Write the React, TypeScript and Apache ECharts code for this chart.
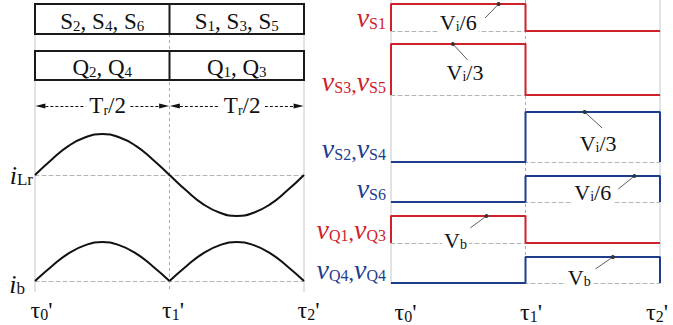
import React, { useEffect, useRef } from 'react';
import * as echarts from 'echarts';

const SERIF = "Liberation Serif";
const RED = '#d0212a';
const BLUE = '#1e3c8c';
const INK = '#111111';
const GUIDE = '#c6c6c6';
const BASE = '#b4b4b4';

// instants τ0', τ1', τ2' (one half resonant period apart)
const tauSubs = ['0', '1', '2'];

// devices conducting in each half period
const switchGroups = [
  [['S', '2'], ['S', '4'], ['S', '6']],
  [['S', '1'], ['S', '3'], ['S', '5']],
];
const bridgeGroups = [
  [['Q', '2'], ['Q', '4']],
  [['Q', '1'], ['Q', '3']],
];
const halfPeriod = ['T', 'r', '/2'];

// resonant current and battery current, sampled every Tr/8
const tSamples = [0, 0.125, 0.25, 0.375, 0.5, 0.625, 0.75, 0.875, 1, 1.125, 1.25, 1.375, 1.5, 1.625, 1.75, 1.875, 2];
const iLr = [0, 0.38, 0.71, 0.92, 1, 0.92, 0.71, 0.38, 0, -0.38, -0.71, -0.92, -1, -0.92, -0.71, -0.38, 0];
const ibFirst = [0, 0.38, 0.71, 0.92, 1, 0.92, 0.71, 0.38, 0];
const ibSecond = [0, 0.38, 0.71, 0.92, 1, 0.92, 0.71, 0.38, 0];

// blocking voltages per half period (S in units of Vi/6, Q in units of Vb)
const vS1 = [1, 0];
const vS3S5 = [2, 0];
const vS2S4 = [0, 2];
const vS6 = [0, 1];
const vQ1Q3 = [1, 0];
const vQ2Q4 = [0, 1];

const traces = [
  { names: [['v', 'S1']], color: RED, levels: vS1, full: 1 },
  { names: [['v', 'S3'], ['v', 'S5']], color: RED, levels: vS3S5, full: 2 },
  { names: [['v', 'S2'], ['v', 'S4']], color: BLUE, levels: vS2S4, full: 2 },
  { names: [['v', 'S6']], color: BLUE, levels: vS6, full: 1 },
  { names: [['v', 'Q1'], ['v', 'Q3']], color: RED, levels: vQ1Q3, full: 1 },
  { names: [['v', 'Q4'], ['v', 'Q4']], color: BLUE, levels: vQ2Q4, full: 1 },
];

// leader-line notes on the waveforms: [main, subscript, rest]
const notes = [
  { trace: 0, text: ['V', 'i', '/6'], dot: [0.8, 1], elbow: [0.7, 0.48], at: [0.5, 0.3] },
  { trace: 1, text: ['V', 'i', '/3'], dot: [0.46, 2], elbow: [0.57, 1.37], at: [0.55, 0.9] },
  { trace: 2, text: ['V', 'i', '/3'], dot: [1.44, 2], elbow: [1.57, 1.36], at: [1.54, 0.76] },
  { trace: 3, text: ['V', 'i', '/6'], dot: [1.81, 1], elbow: [1.69, 0.5], at: [1.5, 0.35] },
  { trace: 4, text: ['V', 'b', ''], dot: [0.71, 1], elbow: [0.59, 0.56], at: [0.48, 0.1] },
  { trace: 5, text: ['V', 'b', ''], dot: [1.65, 1], elbow: [1.52, 0.54], at: [1.4, 0.2] },
];

// layout (pixels)
const LEFT_X = 35;
const RIGHT_X = 391;
const PANEL_W = 269;
const traceBands = [[4, 27], [44, 51], [112, 50], [176, 26], [216, 27], [257, 26]];
const leftTauPad = { before: [13, 7, 9], after: [0, 0, 0] };
const rightTauPad = { before: [29, 11, 0], after: [0, 0, 6] };
const arrowRow = 0.354;

const stepPoints = (lv: number[]) => [[0, 0], [0, lv[0]], [1, lv[0]], [1, lv[1]], [2, lv[1]], [2, 0]];

const subRich = (main: number, sub: number, color: string, italic: boolean, mainLH: number, subLH: number) => ({
  v: { fontFamily: SERIF, fontStyle: italic ? 'italic' : 'normal', fontSize: main, color, lineHeight: mainLH, verticalAlign: 'bottom' },
  s: { fontFamily: SERIF, fontStyle: 'normal', fontSize: sub, color, lineHeight: subLH, verticalAlign: 'bottom' },
  c: { fontFamily: SERIF, fontStyle: 'normal', fontSize: 22, color, lineHeight: mainLH, verticalAlign: 'bottom' },
});

const pairText = (pairs: string[][], sep: string) =>
  pairs.map(([b, s]) => `{v|${b}}{s|${s}}`).join(`{c|${sep}}`);

const tauLabel = (pads: { before: number[]; after: number[] }) => ({
  show: true,
  margin: 17,
  color: INK,
  fontFamily: SERIF,
  formatter: (_v: number, i: number) => `{b${i}| }{t|τ}{s|${tauSubs[i]}}{t|'}{a${i}| }`,
  rich: {
    t: { fontFamily: SERIF, fontSize: 24, color: INK, lineHeight: 24, verticalAlign: 'bottom' },
    s: { fontFamily: SERIF, fontSize: 16, color: INK, lineHeight: 8, verticalAlign: 'bottom' },
    ...Object.fromEntries(pads.before.map((w, i) => [`b${i}`, { fontSize: 1, width: w, lineHeight: 24 }])),
    ...Object.fromEntries(pads.after.map((w, i) => [`a${i}`, { fontSize: 1, width: w, lineHeight: 24 }])),
  },
});

const hiddenAxis = { show: false };

const guideSeries = (axis: number) =>
  [0, 1, 2].map((t) => ({
    type: 'line',
    xAxisIndex: axis,
    yAxisIndex: axis,
    data: [[t, 0], [t, 1]],
    symbol: 'none',
    silent: true,
    z: 1,
    lineStyle: { color: t === 1 ? '#a8a8a8' : GUIDE, width: 1, type: t === 1 ? [3, 3] : 'solid' },
  }));

const gateBoxes = () => {
  const els: any[] = [];
  const rows = [
    { y: 4, h: 30, groups: switchGroups, ty: 21 },
    { y: 51, h: 29, groups: bridgeGroups, ty: 67 },
  ];
  const rich = {
    n: { fontFamily: SERIF, fontSize: 23, fill: INK, lineHeight: 24, verticalAlign: 'bottom' },
    s: { fontFamily: SERIF, fontSize: 15, fill: INK, lineHeight: 8, verticalAlign: 'bottom' },
  };
  rows.forEach((r) => {
    els.push({
      type: 'rect', z: 10,
      shape: { x: LEFT_X, y: r.y, width: PANEL_W, height: r.h },
      style: { fill: '#fff', stroke: '#1a1a1a', lineWidth: 2 },
    });
    els.push({
      type: 'line', z: 11,
      shape: { x1: LEFT_X + PANEL_W / 2, y1: r.y, x2: LEFT_X + PANEL_W / 2, y2: r.y + r.h },
      style: { stroke: '#1a1a1a', lineWidth: 2 },
    });
    r.groups.forEach((g, k) => {
      els.push({
        type: 'text', z: 12,
        x: LEFT_X + PANEL_W * (k + 0.5) / 2,
        y: r.ty,
        style: {
          text: g.map(([b, s]) => `{n|${b}}{s|${s}}`).join('{n|, }'),
          fontFamily: SERIF,
          align: 'center', verticalAlign: 'middle', rich,
        },
      });
    });
  });
  return els;
};

const gridBox = (left: number, top: number, height: number) => ({
  left, top, height, width: PANEL_W, containLabel: false, outerBoundsMode: 'none',
});

function buildOption() {
  const grid: any[] = [
    gridBox(LEFT_X, 4, 288),
    gridBox(LEFT_X, 134, 82),
    gridBox(LEFT_X, 242, 39),
    gridBox(RIGHT_X, 0, 284),
  ];
  const xAxis: any[] = [
    { type: 'value', gridIndex: 0, min: 0, max: 2, ...hiddenAxis },
    {
      type: 'value', gridIndex: 1, min: 0, max: 2, interval: 1,
      axisLine: { show: true, onZero: true, lineStyle: { color: BASE, type: [4, 3], width: 1 } },
      axisTick: { show: false }, splitLine: { show: false }, axisLabel: { show: false },
    },
    {
      type: 'value', gridIndex: 2, min: 0, max: 2, interval: 1,
      axisLine: { show: true, onZero: true, lineStyle: { color: BASE, type: [4, 3], width: 1 } },
      axisTick: { show: false }, splitLine: { show: false }, axisLabel: tauLabel(leftTauPad),
    },
    { type: 'value', gridIndex: 3, min: 0, max: 2, ...hiddenAxis },
  ];
  const yAxis: any[] = [
    { type: 'value', gridIndex: 0, min: 0, max: 1, inverse: true, ...hiddenAxis },
    {
      type: 'value', gridIndex: 1, min: -1, max: 1, interval: 1,
      axisLine: { show: false }, axisTick: { show: false }, splitLine: { show: false },
      axisLabel: {
        show: true, margin: 2, verticalAlign: 'middle', fontFamily: SERIF,
        formatter: (v: number) => (v === 0 ? '{v|i}{s|Lr}' : ''),
        rich: subRich(26, 17, INK, true, 26, 4),
      },
    },
    {
      type: 'value', gridIndex: 2, min: 0, max: 1, interval: 1,
      axisLine: { show: false }, axisTick: { show: false }, splitLine: { show: false },
      axisLabel: {
        show: true, margin: 10, verticalAlign: 'middle', showMinLabel: true, fontFamily: SERIF,
        padding: [6, 0, 0, 0],
        formatter: (v: number) => (v === 0 ? '{v|i}{s|b}' : ''),
        rich: subRich(26, 17, INK, true, 26, 4),
      },
    },
    { type: 'value', gridIndex: 3, min: 0, max: 1, inverse: true, ...hiddenAxis },
  ];

  const series: any[] = [
    ...guideSeries(0),
    ...guideSeries(3),
    {
      type: 'line', xAxisIndex: 1, yAxisIndex: 1, smooth: true, symbol: 'none', clip: false, z: 3,
      data: tSamples.map((t, k) => [t, iLr[k]]),
      lineStyle: { color: INK, width: 2 },
    },
    {
      type: 'line', xAxisIndex: 2, yAxisIndex: 2, smooth: true, symbol: 'none', clip: false, z: 3,
      data: ibFirst.map((v, k) => [tSamples[k], v]),
      lineStyle: { color: INK, width: 2 },
    },
    {
      type: 'line', xAxisIndex: 2, yAxisIndex: 2, smooth: true, symbol: 'none', clip: false, z: 3,
      data: ibSecond.map((v, k) => [tSamples[k + 8], v]),
      lineStyle: { color: INK, width: 2 },
    },
    // Tr/2 dimension arrows
    {
      type: 'line', xAxisIndex: 0, yAxisIndex: 0, data: [], symbol: 'none', silent: true,
      markLine: {
        silent: true, symbol: ['triangle', 'triangle'], symbolSize: [5, 10],
        lineStyle: { color: INK, width: 1, type: [3, 2] },
        itemStyle: { color: INK },
        label: { show: false },
        data: [
          [{ coord: [0.04, arrowRow] }, { coord: [0.96, arrowRow] }],
          [{ coord: [1.04, arrowRow] }, { coord: [1.96, arrowRow] }],
        ],
      },
      markPoint: {
        silent: true, symbol: 'circle', symbolSize: 1, itemStyle: { color: 'rgba(0,0,0,0)' },
        label: {
          show: true, position: 'inside', backgroundColor: '#fff', padding: [0, 4], fontFamily: SERIF,
          formatter: `{v|${halfPeriod[0]}}{s|${halfPeriod[1]}}{v|${halfPeriod[2]}}`,
          rich: subRich(23, 14, INK, false, 23, 8),
        },
        data: [{ coord: [0.54, arrowRow] }, { coord: [1.54, arrowRow] }],
      },
    },
  ];

  traces.forEach((tr, i) => {
    const gi = 4 + i;
    const [top, height] = traceBands[i];
    grid.push(gridBox(RIGHT_X, top, height));
    xAxis.push({
      type: 'value', gridIndex: gi, min: 0, max: 2, interval: 1,
      axisLine: { show: true, onZero: true, lineStyle: { color: BASE, type: [4, 3], width: 1 } },
      axisTick: { show: false }, splitLine: { show: false },
      axisLabel: i === traces.length - 1 ? tauLabel(rightTauPad) : { show: false },
    });
    const nameText = pairText(tr.names, ',');
    yAxis.push({
      type: 'value', gridIndex: gi, min: 0, max: tr.full, interval: tr.full,
      axisLine: { show: false }, axisTick: { show: false }, splitLine: { show: false },
      axisLabel: {
        show: true, margin: 5, verticalAlign: 'bottom', showMinLabel: true, fontFamily: SERIF,
        formatter: (v: number) => (v === 0 ? nameText : ''),
        rich: subRich(28, 16, tr.color, true, 22, 4),
      },
    });
    const note = notes.find((n) => n.trace === i);
    series.push({
      type: 'line', xAxisIndex: gi, yAxisIndex: gi, symbol: 'none', clip: false, z: 3,
      data: stepPoints(tr.levels),
      lineStyle: { color: tr.color, width: 2 },
      markLine: note && {
        silent: true, symbol: ['circle', 'none'], symbolSize: 4,
        lineStyle: { color: '#333', width: 0.8, type: 'solid' },
        itemStyle: { color: INK },
        label: { show: false },
        data: [[{ coord: note.dot }, { coord: note.elbow }]],
      },
      markPoint: note && {
        silent: true, symbol: 'circle', symbolSize: 1, itemStyle: { color: 'rgba(0,0,0,0)' },
        label: {
          show: true, position: 'inside', backgroundColor: '#fff', padding: [0, 2], fontFamily: SERIF,
          formatter: `{v|${note.text[0]}}{s|${note.text[1]}}{v|${note.text[2]}}`,
          rich: subRich(22, 14, INK, false, 22, 8),
        },
        data: [{ coord: note.at }],
      },
    });
  });

  return {
    animation: false,
    backgroundColor: '#ffffff',
    textStyle: { fontFamily: SERIF },
    grid,
    xAxis,
    yAxis,
    series,
    graphic: gateBoxes(),
  };
}

export default function App() {
  const ref = useRef<HTMLDivElement>(null);
  useEffect(() => {
    if (!ref.current) return;
    const chart = echarts.init(ref.current, undefined, { renderer: 'svg' });
    chart.setOption(buildOption() as any);
    return () => chart.dispose();
  }, []);
  return (
    <div
      ref={ref}
      style={{ position: 'fixed', left: 0, top: 0, width: 673, height: 325, background: '#fff' }}
    />
  );
}
